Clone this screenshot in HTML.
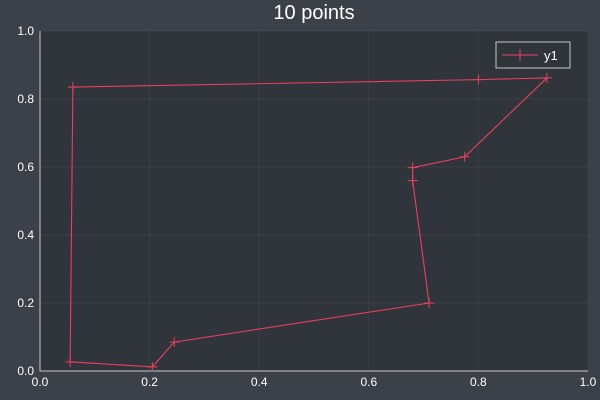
<!DOCTYPE html>
<html><head><meta charset="utf-8"><style>
body{margin:0;background:#3b4049;}
svg{display:block;font-family:"Liberation Sans",sans-serif;}
</style></head><body>
<svg width="600" height="400" id="c">
<rect x="0" y="0" width="600" height="400" fill="#3b4049"/>
<rect x="40" y="31" width="548" height="340" fill="#30343b"/>
<text x="314" y="19" fill="#ffffff" font-size="20" text-anchor="middle">10 points</text>
<g id="g"></g>
<g>
<rect x="496" y="42" width="74" height="26" fill="#30343b" stroke="#c8c8c8" stroke-width="1"/>
<line x1="502" y1="55" x2="538" y2="55" stroke="#e8405e" stroke-width="1"/>
<line x1="520" y1="49" x2="520" y2="61" stroke="#e8405e" stroke-width="1"/>
<text x="544" y="60" fill="#ffffff" font-size="13">y1</text>
</g>
</svg>
<script>
const xs=[0.925,0.8,0.06,0.055,0.205,0.245,0.71,0.68,0.68,0.775];
const ys=[0.862,0.857,0.835,0.027,0.012,0.085,0.2,0.56,0.598,0.63];
const ticks=[0,0.2,0.4,0.6,0.8,1.0];
const tickLabels=["0.0","0.2","0.4","0.6","0.8","1.0"];
const X=v=>40+548*v, Y=v=>371-340*v;
const g=document.getElementById('g'), NS="http://www.w3.org/2000/svg";
function mk(t,a){const e=document.createElementNS(NS,t);for(const k in a)e.setAttribute(k,a[k]);g.appendChild(e);return e;}
ticks.forEach((t,i)=>{
 let l=mk('line',{x1:X(t),y1:31,x2:X(t),y2:371,stroke:'#ffffff','stroke-opacity':0.05});
 
 
 l=mk('line',{x1:40,y1:Y(t),x2:588,y2:Y(t),stroke:'#ffffff','stroke-opacity':0.05});
 
 
 let tx=mk('text',{x:X(t),y:386,fill:'#ffffff','font-size':12,'text-anchor':'middle'});tx.textContent=tickLabels[i];
 
 
 tx=mk('text',{x:34,y:Y(t)+4,fill:'#ffffff','font-size':12,'text-anchor':'end'});tx.textContent=tickLabels[i];
 
 
});
let ax=mk('path',{d:'M40 31V371H588',fill:'none',stroke:'#c8c8c8','stroke-width':1});


let pts=xs.map((x,i)=>X(x)+','+Y(ys[i])).join(' ');
let pl=mk('polygon',{points:pts,fill:'none',stroke:'#e8405e','stroke-width':1.1});


xs.forEach((x,i)=>{
 const cx=X(x),cy=Y(ys[i]);
 let m=mk('path',{d:`M${cx-5} ${cy}H${cx+5}M${cx} ${cy-5}V${cy+5}`,stroke:'#e8405e','stroke-width':1});
 
 
});
</script>
</body></html>
